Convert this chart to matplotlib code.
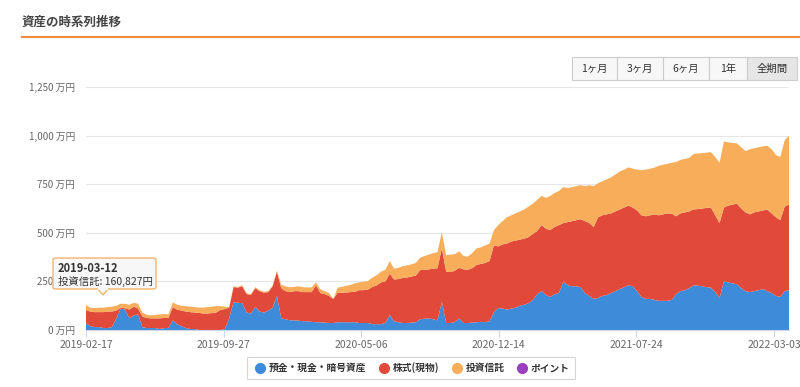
import numpy as np
import pandas as pd
import matplotlib
matplotlib.use("Agg")
import matplotlib.pyplot as plt
from matplotlib.patches import Rectangle, FancyBboxPatch, Polygon
from matplotlib.lines import Line2D

plt.rcParams['font.family'] = ['Noto Sans CJK JP', 'DejaVu Sans']

# 週ごとの積み上げ上端（万円）: 預金 / 預金+株式 / 預金+株式+投資信託
start_date = "2019-02-17"
cash_top = [
    36, 20, 15, 15, 10, 10, 15, 60, 110, 105,
    60, 75, 80, 15, 10, 10, 10, 5, 10, 10,
    50, 30, 20, 10, 5, 5, 0, 0, 0, 0,
    0, 0, 5, 60, 144, 140, 138, 90, 85, 120,
    95, 90, 100, 115, 175, 60, 55, 50, 50, 48,
    45, 45, 42, 40, 40, 38, 36, 36, 40, 40,
    40, 40, 40, 36, 36, 36, 30, 30, 30, 36,
    77, 45, 40, 36, 36, 38, 40, 55, 58, 60,
    55, 50, 144, 36, 36, 40, 60, 36, 36, 38,
    40, 42, 40, 45, 92, 113, 110, 105, 110, 115,
    125, 130, 138, 155, 185, 200, 180, 170, 185, 190,
    250, 230, 225, 225, 220, 190, 175, 160, 165, 175,
    180, 190, 200, 210, 220, 230, 225, 200, 170, 160,
    160, 155, 150, 150, 150, 155, 185, 200, 205, 215,
    230, 228, 225, 220, 218, 195, 165, 250, 245, 240,
    235, 215, 200, 195, 200, 205, 210, 200, 190, 175,
    170, 200, 205,
]
stock_top = [
    103, 95, 92, 92, 92, 95, 95, 100, 115, 112,
    105, 120, 110, 70, 62, 60, 60, 60, 62, 62,
    118, 105, 100, 95, 92, 90, 88, 85, 85, 87,
    90, 103, 108, 115, 221, 218, 225, 185, 180, 215,
    200, 192, 195, 225, 300, 215, 200, 195, 200, 200,
    195, 195, 195, 230, 190, 185, 175, 160, 192, 192,
    193, 195, 197, 205, 205, 208, 222, 230, 245, 250,
    290, 260, 262, 268, 270, 275, 280, 308, 310, 312,
    315, 318, 421, 300, 298, 305, 320, 312, 310, 318,
    335, 340, 345, 355, 436, 430, 440, 445, 455, 460,
    465, 470, 478, 495, 510, 540, 520, 515, 530, 540,
    550, 555, 560, 565, 570, 560, 550, 530, 580, 590,
    595, 600, 610, 620, 630, 640, 630, 615, 590, 585,
    590, 595, 590, 595, 600, 598, 585, 600, 605, 610,
    620, 622, 625, 628, 630, 590, 550, 630, 640, 645,
    650, 625, 605, 595, 605, 610, 615, 620, 600, 580,
    565, 635, 645,
]
fund_top = [
    128, 115, 113, 115, 115, 118, 120, 125, 135, 135,
    130, 140, 135, 90, 78, 75, 78, 80, 82, 80,
    142, 130, 125, 122, 120, 118, 115, 115, 118, 120,
    123, 123, 120, 118, 224, 222, 230, 190, 185, 220,
    205, 197, 200, 228, 305, 232, 225, 220, 222, 225,
    220, 218, 220, 245, 210, 200, 190, 160, 218, 222,
    228, 232, 240, 245, 248, 252, 270, 282, 300, 310,
    355, 315, 320, 328, 332, 338, 345, 372, 380, 388,
    395, 400, 503, 385, 388, 390, 405, 380, 378, 395,
    420, 425, 435, 445, 513, 540, 560, 580, 590, 600,
    610, 620, 635, 650, 670, 690, 680, 690, 705, 715,
    735, 730, 735, 740, 745, 740, 745, 740, 755, 765,
    775, 785, 800, 815, 825, 836, 830, 825, 822, 825,
    830, 835, 845, 850, 855, 860, 865, 875, 880, 885,
    905, 908, 910, 912, 915, 890, 860, 970, 965, 962,
    960, 940, 920, 930, 935, 940, 945, 948, 930, 900,
    890, 975, 1000,
]

series_names = ["預金・現金・暗号資産", "株式(現物)", "投資信託", "ポイント"]
series_colors = ["#3d8bd9", "#e14a3b", "#f8ad5a", "#9b3fc1"]
tick_dates = ["2019-02-17", "2019-09-27", "2020-05-06", "2020-12-14", "2021-07-24", "2022-03-03"]
y_ticks = [0, 250, 500, 750, 1000, 1250]
range_buttons = ["1ヶ月", "3ヶ月", "6ヶ月", "1年", "全期間"]

dates = pd.date_range(start=start_date, periods=len(cash_top), freq="7D")
cash = np.array(cash_top, dtype=float)
stock = np.array(stock_top, dtype=float) - cash
fund = np.array(fund_top, dtype=float) - np.array(stock_top, dtype=float)

fig = plt.figure(figsize=(8.0, 3.87), dpi=100)
W, H = 800, 387

def fx(px):
    return px / W

def fy(py):
    return 1 - py / H

# タイトルと下線
fig.text(fx(22), fy(22), "資産の時系列推移", fontsize=9, fontweight="bold",
         color="#444444", va="center", ha="left")
fig.add_artist(Line2D([fx(22), 1.0], [fy(37), fy(37)], color="#ee8a3a", lw=1.5))

# 期間ボタン
bx = [572, 617, 663, 709, 747, 797]
for k, lab in enumerate(range_buttons):
    face = "#e6e6e6" if k == len(range_buttons) - 1 else "#f7f7f7"
    fig.add_artist(Rectangle((fx(bx[k]), fy(80)), fx(bx[k + 1] - bx[k]), (80 - 57) / H,
                             facecolor=face, edgecolor="#cccccc", lw=0.8))
    fig.text(fx((bx[k] + bx[k + 1]) / 2), fy(68.5), lab, fontsize=7.5, color="#333333",
             ha="center", va="center")

ax = fig.add_axes([fx(86), fy(330), fx(789 - 86), (330 - 87) / H])
ax.stackplot(dates, cash, stock, fund, colors=series_colors[:3], lw=0)

ax.set_xlim(dates[0], dates[-1])
ax.set_ylim(0, 1250)
ax.set_yticks(y_ticks)
ax.set_yticklabels([f"{v:,} 万円" for v in y_ticks], fontsize=7, color="#666666")
ax.set_xticks(pd.to_datetime(tick_dates))
ax.set_xticklabels(tick_dates, fontsize=7.5, color="#666666")
ax.tick_params(axis="y", length=0, pad=8)
ax.tick_params(axis="x", length=5, color="#ccd6eb", pad=2)
ax.grid(axis="y", color="#e6e6e6", lw=0.8)
ax.set_axisbelow(True)
for s in ["top", "right", "left"]:
    ax.spines[s].set_visible(False)
ax.spines["bottom"].set_color("#ccd6eb")

# ツールチップ
tip = FancyBboxPatch((fx(53), fy(289)), fx(103), (289 - 258) / H,
                     boxstyle="round,pad=0,rounding_size=0.004",
                     facecolor="#f7f7f7", edgecolor="#f5b46a", lw=1, zorder=10,
                     transform=fig.transFigure)
fig.add_artist(tip)
fig.add_artist(Polygon([[fx(98), fy(289)], [fx(108), fy(289)], [fx(103), fy(295)]],
                       closed=True, facecolor="#f7f7f7", edgecolor="#f5b46a", lw=1,
                       zorder=10, transform=fig.transFigure))
fig.add_artist(Line2D([fx(98.7), fx(107.3)], [fy(289), fy(289)], color="#f7f7f7",
                      lw=1.5, zorder=11))
fig.text(fx(58), fy(268), "2019-03-12", fontsize=8, fontweight="bold", color="#333333",
         va="center", zorder=12)
fig.text(fx(58), fy(281), "投資信託: 160,827円", fontsize=7.5, color="#333333",
         va="center", zorder=12)

# 凡例
handles = [Line2D([], [], marker="o", ls="", markersize=7, color=c) for c in series_colors]
leg = fig.legend(handles, series_names, loc="center", bbox_to_anchor=(fx(411), fy(368)),
                 ncol=4, frameon=True, fontsize=7, handletextpad=0.1, columnspacing=1.0,
                 handlelength=1.6, borderpad=0.6, fancybox=False)
leg.get_frame().set_edgecolor("#cccccc")
leg.get_frame().set_linewidth(0.8)
for t in leg.get_texts():
    t.set_color("#333333")
    t.set_fontweight("bold")

fig.savefig("out.png", dpi=100)
